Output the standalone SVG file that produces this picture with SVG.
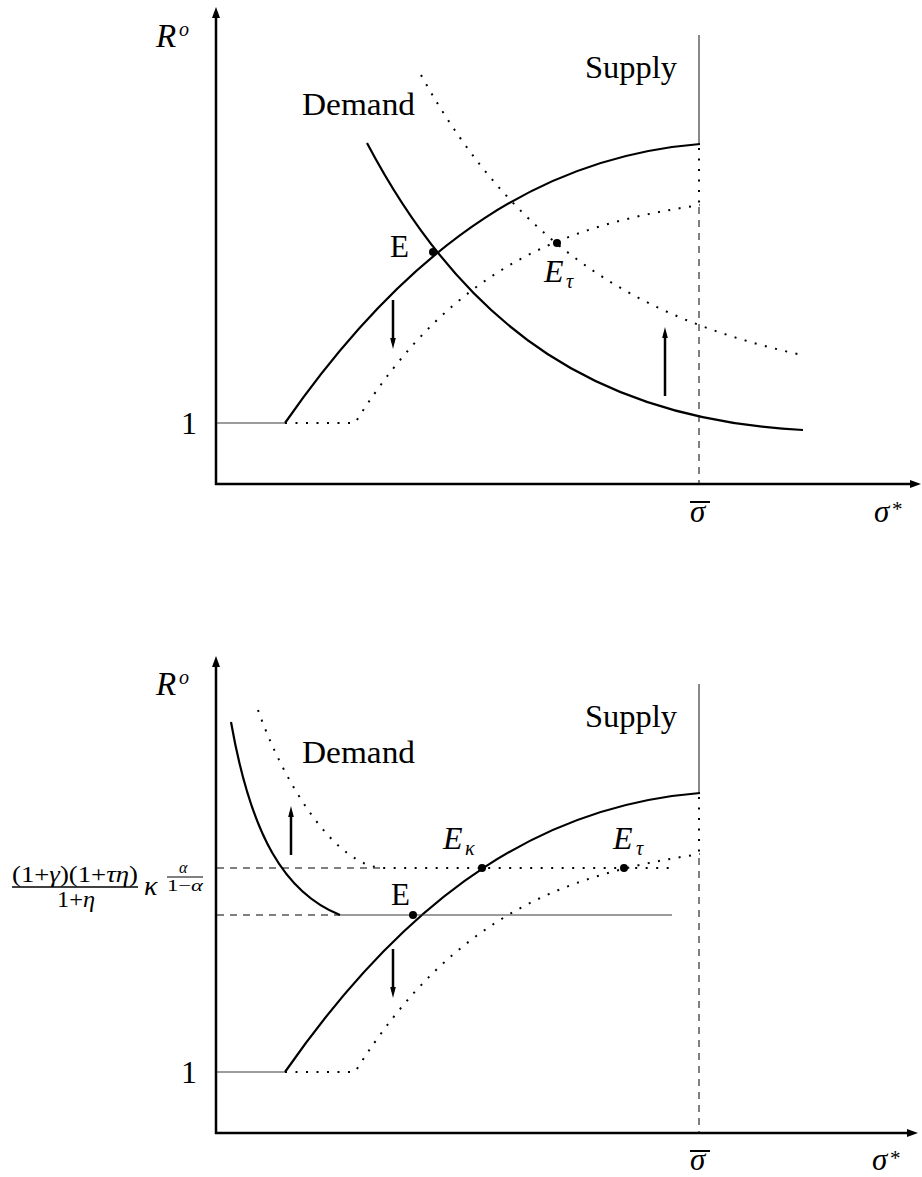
<svg xmlns="http://www.w3.org/2000/svg" width="922" height="1177" viewBox="0 0 922 1177">
<defs>
<style>
.axis{stroke:#000;stroke-width:2.5;fill:none;marker-end:url(#axhead)}
.curve{stroke:#000;stroke-width:2.2;fill:none}
.thin{stroke:#3a3a3a;stroke-width:1.2;fill:none}
.dotl{stroke:#000;stroke-width:2;stroke-dasharray:2 8.5;fill:none}
.dash{stroke:#000;stroke-width:1;stroke-dasharray:7 6;fill:none}
.arr{stroke:#000;stroke-width:2.5;fill:none;marker-end:url(#smhead)}
.pt{fill:#000}
text{font-family:"Liberation Serif","Times New Roman",serif;font-size:30px;fill:#000}
.it{font-style:italic}
</style>
<marker id="axhead" markerUnits="userSpaceOnUse" markerWidth="12" markerHeight="9" refX="4" refY="4" orient="auto">
<path d="M0,0 L11,4 L0,8 z" fill="#000"/>
</marker>
<marker id="smhead" markerUnits="userSpaceOnUse" markerWidth="12" markerHeight="7" refX="5" refY="2.8" orient="auto">
<path d="M0,0 L11,2.8 L0,5.6 z" fill="#000"/>
</marker>
</defs>

<!-- ===== TOP PANEL ===== -->
<g id="top-axes">
<line class="axis" x1="216" y1="485" x2="216" y2="14"/>
<line class="axis" x1="215" y1="484" x2="914" y2="484"/>
</g>
<g id="top-labels">
<text class="it" x="156" y="47" style="font-size:33px">R</text>
<text class="it" x="179" y="36" style="font-size:20px">o</text>
<text x="181" y="434" style="font-size:32px">1</text>
<text class="it" x="690" y="522" style="font-size:31px">σ</text>
<line x1="690" y1="502" x2="710" y2="502" stroke="#000" stroke-width="2"/>
<text class="it" x="874" y="522" style="font-size:31px">σ</text>
<text x="892" y="516" style="font-size:21px">*</text>
<text x="302" y="115" textLength="113" lengthAdjust="spacingAndGlyphs" style="font-size:31px">Demand</text>
<text x="585" y="78" textLength="92" lengthAdjust="spacingAndGlyphs" style="font-size:31px">Supply</text>
<text x="390" y="257" style="font-size:31px">E</text>
<text class="it" x="544" y="282" style="font-size:32px">E</text>
<text class="it" x="566" y="288" style="font-size:20px">τ</text>
</g>
<g id="top-connectors">
<line class="thin" x1="217" y1="423" x2="285" y2="423"/>
<line class="thin" x1="699" y1="35" x2="699" y2="144"/>
<path class="curve" d="M285,423 C415,236 550,156 700,144"/>
<path class="dotl" d="M285,423 L355,423 C455,263 570,224.5 700,205"/>
<line class="dotl" x1="699" y1="148" x2="699" y2="205"/>
<line class="dash" x1="699" y1="207" x2="699" y2="484"/>
<path class="curve" d="M367,143 C467,333 603,420 803,430"/>
<path class="dotl" d="M421,75 C521,256 652,322 802,355"/>
<line class="arr" x1="393" y1="300" x2="393" y2="343"/>
<line class="arr" x1="665" y1="396" x2="665" y2="333"/>
</g>
<g id="top-points">
<circle class="pt" cx="433" cy="252" r="4"/>
<circle class="pt" cx="557" cy="243" r="4"/>
</g>

<!-- ===== BOTTOM PANEL ===== -->
<g id="bottom-axes">
<line class="axis" x1="216" y1="1134" x2="216" y2="663"/>
<line class="axis" x1="215" y1="1133" x2="911" y2="1133"/>
</g>
<g id="bottom-labels">
<text class="it" x="156" y="695" style="font-size:33px">R</text>
<text class="it" x="179" y="684" style="font-size:20px">o</text>
<text x="181" y="1083" style="font-size:32px">1</text>
<text class="it" x="690" y="1170" style="font-size:31px">σ</text>
<line x1="690" y1="1151" x2="710" y2="1151" stroke="#000" stroke-width="2"/>
<text class="it" x="872" y="1170" style="font-size:31px">σ</text>
<text x="890" y="1165" style="font-size:21px">*</text>
<text x="302" y="763" textLength="113" lengthAdjust="spacingAndGlyphs" style="font-size:31px">Demand</text>
<text x="585" y="727" textLength="92" lengthAdjust="spacingAndGlyphs" style="font-size:31px">Supply</text>
<text x="391" y="905" style="font-size:31px">E</text>
<text class="it" x="443" y="849" style="font-size:32px">E</text>
<text class="it" x="465" y="855" style="font-size:20px">κ</text>
<text class="it" x="613" y="849" style="font-size:32px">E</text>
<text class="it" x="636" y="855" style="font-size:20px">τ</text>
<g id="fraction-label">
<text x="12" y="882" textLength="126" lengthAdjust="spacingAndGlyphs" style="font-size:24px">(1+<tspan class="it">γ</tspan>)(1+<tspan class="it">τη</tspan>)</text>
<line x1="12" y1="887" x2="138" y2="887" stroke="#000" stroke-width="1.3"/>
<text x="57" y="907" textLength="38" lengthAdjust="spacingAndGlyphs" style="font-size:23px">1+<tspan class="it">η</tspan></text>
<text class="it" x="144" y="895" style="font-size:28px">κ</text>
<text class="it" x="179" y="873" style="font-size:16px">α</text>
<line x1="167" y1="877" x2="203" y2="877" stroke="#000" stroke-width="1"/>
<text x="167" y="891" textLength="36" lengthAdjust="spacingAndGlyphs" style="font-size:16px">1−<tspan class="it">α</tspan></text>
</g>
</g>
<g id="bottom-connectors">
<line class="thin" x1="217" y1="1072" x2="285" y2="1072"/>
<line class="thin" x1="699" y1="684" x2="699" y2="793"/>
<path class="curve" d="M285,1072 C415,885 550,805 700,793"/>
<path class="dotl" d="M285,1072 L355,1072 C455,912 570,873.5 700,854"/>
<line class="dotl" x1="699" y1="797" x2="699" y2="856"/>
<line class="dash" x1="699" y1="858" x2="699" y2="1133"/>
<line class="dash" x1="217" y1="868" x2="382" y2="868"/>
<line class="dash" x1="217" y1="915" x2="340" y2="915"/>
<line class="thin" x1="340" y1="915" x2="672" y2="915"/>
<path class="curve" d="M231,722 C251,836 285,893 340,915"/>
<path class="dotl" d="M258,710 C283,781 335,868 385,868 L675,868"/>
<line class="arr" x1="291" y1="855" x2="291" y2="812"/>
<line class="arr" x1="393" y1="949" x2="393" y2="992"/>
</g>
<g id="bottom-points">
<circle class="pt" cx="413" cy="915" r="4"/>
<circle class="pt" cx="482" cy="868" r="4"/>
<circle class="pt" cx="624" cy="868" r="4"/>
</g>
</svg>
